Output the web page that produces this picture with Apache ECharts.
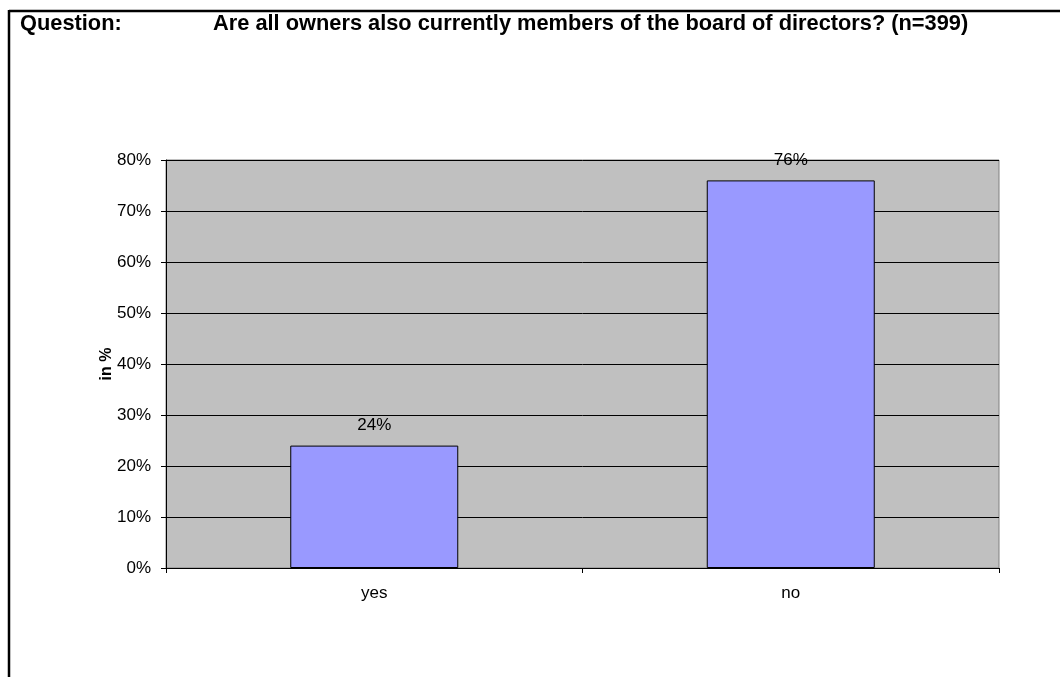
<!DOCTYPE html>
<html>
<head>
<meta charset="utf-8">
<script src="https://cdn.jsdelivr.net/npm/echarts@6/dist/echarts.min.js"></script>
<style>
  html, body { margin: 0; padding: 0; background: #fff; }
  #chart { width: 1060px; height: 677px; }
</style>
</head>
<body>
<div id="chart"></div>
<script>
// Survey answers, share of respondents in percent
const categories = ['yes', 'no'];
const shares = [24, 76];
const yTicks = { min: 0, max: 80, interval: 10 };

const FONT = '"Liberation Sans", Arial, sans-serif';

const chart = echarts.init(document.getElementById('chart'), null, { renderer: 'canvas' });

chart.setOption({
  animation: false,
  backgroundColor: '#ffffff',
  graphic: [
    // frame lines along the top and left edge
    { type: 'line', shape: { x1: 9, y1: 11, x2: 1060, y2: 11 }, style: { stroke: '#000', lineWidth: 2.5 } },
    { type: 'line', shape: { x1: 9, y1: 10, x2: 9, y2: 677 }, style: { stroke: '#000', lineWidth: 2.5 } },
    { type: 'text', left: 20, top: 13, style: { text: 'Question:', font: 'bold 21.8px ' + FONT, fill: '#000' } },
    { type: 'text', left: 213, top: 13, style: { text: 'Are all owners also currently members of the board of directors? (n=399)', font: 'bold 21.8px ' + FONT, fill: '#000' } }
  ],
  grid: {
    left: 166, right: 61, top: 160, bottom: 109,
    show: true,
    backgroundColor: '#c0c0c0',
    borderColor: '#808080',
    borderWidth: 1
  },
  xAxis: {
    type: 'category',
    data: categories,
    boundaryGap: true,
    axisLine: { lineStyle: { color: '#000', width: 1 } },
    axisTick: { show: true, length: 5, lineStyle: { color: '#000' } },
    axisLabel: { color: '#000', fontSize: 17, fontFamily: FONT, margin: 17 }
  },
  yAxis: {
    type: 'value',
    min: yTicks.min, max: yTicks.max, interval: yTicks.interval,
    name: 'in %',
    nameLocation: 'middle',
    nameGap: 51,
    nameMoveOverlap: false,
    nameRotate: 90,
    nameTextStyle: { color: '#000', fontSize: 16, fontWeight: 'bold', fontFamily: FONT },
    axisLine: { show: true, lineStyle: { color: '#000', width: 1 } },
    axisTick: { show: true, length: 5, lineStyle: { color: '#000' } },
    axisLabel: { color: '#000', fontSize: 17, fontFamily: FONT, margin: 15, formatter: v => v + '%' },
    splitLine: { show: true, lineStyle: { color: '#000', width: 1 } }
  },
  series: [{
    type: 'bar',
    data: shares,
    barWidth: 168,
    itemStyle: { color: '#9999ff', borderColor: '#000', borderWidth: 1 },
    label: {
      show: true,
      position: 'top',
      distance: 12,
      color: '#000',
      fontSize: 17,
      fontFamily: FONT,
      formatter: p => p.value + '%'
    }
  }]
});
</script>
</body>
</html>
